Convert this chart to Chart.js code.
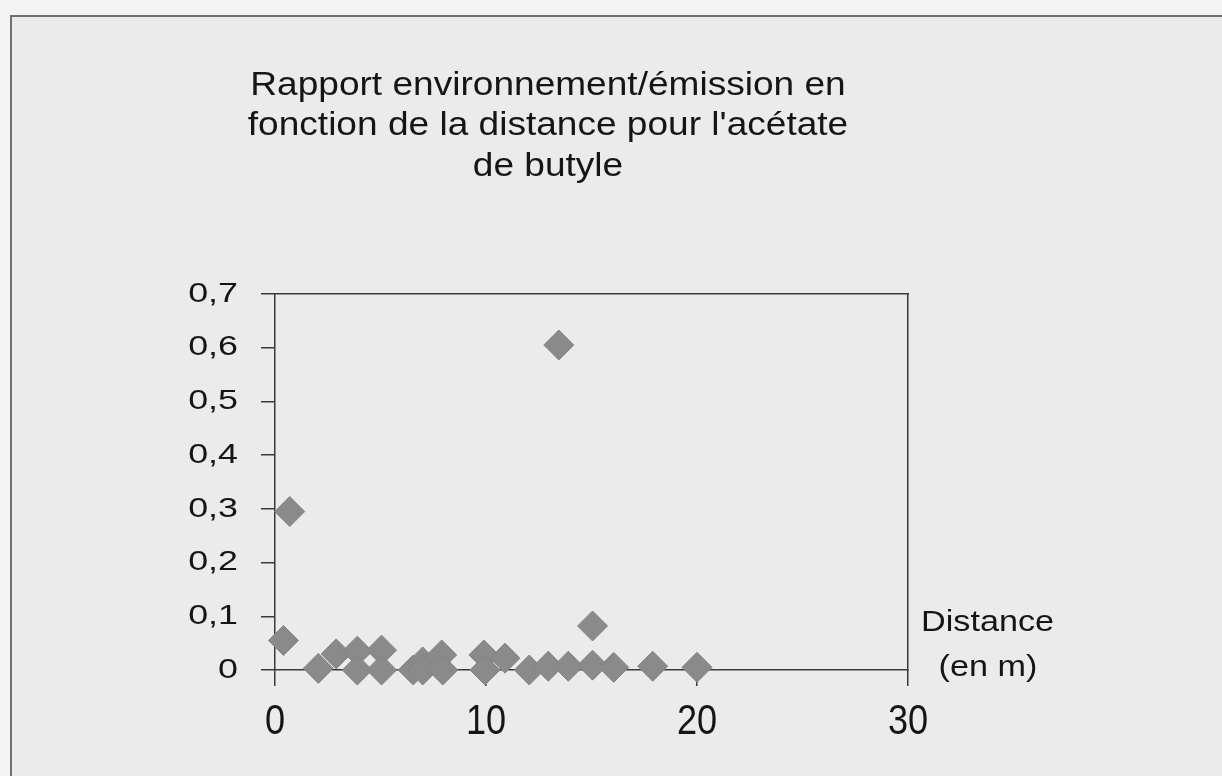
<!DOCTYPE html>
<html>
<head>
<meta charset="utf-8">
<script src="https://cdn.jsdelivr.net/npm/chart.js@4.4.1/dist/chart.umd.min.js"></script>
<style>
  html, body { margin: 0; padding: 0; width: 1222px; height: 776px; overflow: hidden; background: #f3f3f3; }
  #frame { position: absolute; left: 10px; top: 15px; width: 1300px; height: 900px;
           border-left: 2px solid #707070; border-top: 2px solid #707070; background: #ebebeb; }
  #wrap { position: absolute; left: 0; top: 0; width: 1222px; height: 776px; }
</style>
</head>
<body>
<div id="frame"></div>
<div id="wrap"><canvas id="c" width="1222" height="776"></canvas></div>
<script>
// Chart text
const titleLines = ['Rapport environnement/émission en', "fonction de la distance pour l'acétate", 'de butyle'];
const axisCaption = ['Distance', '(en m)'];

// Measurements: distance (m) and environment/emission ratio
const distances = [0.4, 0.7, 2.05, 2.9, 3.9, 3.9, 5.05, 5.05, 6.55, 7.0, 7.0, 7.9, 7.95,
                   9.9, 9.95, 10.9, 12.05, 12.95, 13.45, 13.9, 15.05, 15.05, 16.05, 17.9, 20.0];
const ratios    = [0.055, 0.295, 0.003, 0.03, 0.035, 0.0, 0.037, 0.0, 0.0, 0.015, 0.0, 0.028, 0.0,
                   0.028, 0.0, 0.022, 0.0, 0.007, 0.605, 0.007, 0.082, 0.009, 0.005, 0.007, 0.005];

// Axis ticks
const xTickValues = [0, 10, 20, 30];
const yTickValues = [0, 0.1, 0.2, 0.3, 0.4, 0.5, 0.6, 0.7];
const yTickLabels = ['0', '0,1', '0,2', '0,3', '0,4', '0,5', '0,6', '0,7'];

const INK = '#151515';
const AXIS = '#3a3a3a';
const FONT = "'Liberation Sans', Arial, sans-serif";

// Horizontal glyph widening per font size (expanded lettering)
const widthBySize = { 34: 1.09, 28: 1.28, 43: 0.84, 30: 1.14 };

const canvas = document.getElementById('c');
const ctx2d = canvas.getContext('2d');
const plainFill = ctx2d.fillText;
ctx2d.fillText = function (text, x, y, maxWidth) {
  const m = /(\d+(?:\.\d+)?)px/.exec(this.font);
  const k = m ? (widthBySize[Math.round(+m[1])] || 1) : 1;
  if (k === 1) {
    return maxWidth === undefined ? plainFill.call(this, text, x, y) : plainFill.call(this, text, x, y, maxWidth);
  }
  this.save();
  this.translate(x, y);
  this.scale(k, 1);
  if (maxWidth === undefined) plainFill.call(this, text, 0, 0);
  else plainFill.call(this, text, 0, 0, maxWidth / k);
  this.restore();
};

const captionPlugin = {
  id: 'axisCaption',
  afterDraw(chart) {
    const { ctx, chartArea } = chart;
    ctx.save();
    ctx.font = '30px ' + FONT;
    ctx.fillStyle = INK;
    ctx.textBaseline = 'middle';
    ctx.textAlign = 'left';
    ctx.fillText(axisCaption[0], chartArea.right + 13, chartArea.bottom - 47);
    ctx.textAlign = 'center';
    ctx.fillText(axisCaption[1], chartArea.right + 80, chartArea.bottom - 2);
    ctx.restore();
  }
};

new Chart(canvas, {
  type: 'scatter',
  data: {
    datasets: [{
      data: distances.map((d, i) => ({ x: d, y: ratios[i] })),
      pointStyle: 'rectRot',
      pointRadius: 15,
      pointHoverRadius: 15,
      backgroundColor: '#8a8a8a',
      borderColor: '#838383',
      borderWidth: 1,
      clip: false
    }]
  },
  options: {
    responsive: false,
    animation: false,
    events: [],
    layout: { padding: { left: 0, right: 126, top: 0, bottom: 0 } },
    plugins: {
      legend: { display: false },
      tooltip: { enabled: false },
      title: {
        display: true,
        text: titleLines,
        color: INK,
        font: { family: FONT, size: 34, weight: 'normal', lineHeight: '40.5px' },
        padding: { top: 65, bottom: 107.5 }
      }
    },
    scales: {
      x: {
        type: 'linear', position: 'bottom', min: 0, max: 30,
        afterBuildTicks: s => { s.ticks = xTickValues.map(v => ({ value: v })); },
        ticks: { color: INK, font: { family: FONT, size: 43 }, padding: 10, maxRotation: 0 },
        grid: { drawOnChartArea: false, drawTicks: true, tickLength: 16, color: AXIS, lineWidth: 1.5 },
        border: { display: true, color: AXIS, width: 1.5 },
        afterFit: s => { s.height = 106; }
      },
      xTop: {
        type: 'linear', position: 'top', min: 0, max: 30,
        ticks: { display: false },
        grid: { display: false, drawTicks: false },
        border: { display: true, color: AXIS, width: 1.5 },
        afterFit: s => { s.height = 0; }
      },
      y: {
        type: 'linear', position: 'left', min: 0, max: 0.7,
        afterBuildTicks: s => { s.ticks = yTickValues.map(v => ({ value: v })); },
        ticks: { color: INK, font: { family: FONT, size: 28 }, padding: 23,
                 callback: (v, i) => yTickLabels[i] },
        grid: { drawOnChartArea: false, drawTicks: true, tickLength: 14, color: AXIS, lineWidth: 1.5 },
        border: { display: true, color: AXIS, width: 1.5 },
        afterFit: s => { s.width = 275; }
      },
      yRight: {
        type: 'linear', position: 'right', min: 0, max: 0.7,
        ticks: { display: false },
        grid: { display: false, drawTicks: false },
        border: { display: true, color: AXIS, width: 1.5 },
        afterFit: s => { s.width = 188; }
      }
    }
  },
  plugins: [captionPlugin]
});
</script>
</body>
</html>
